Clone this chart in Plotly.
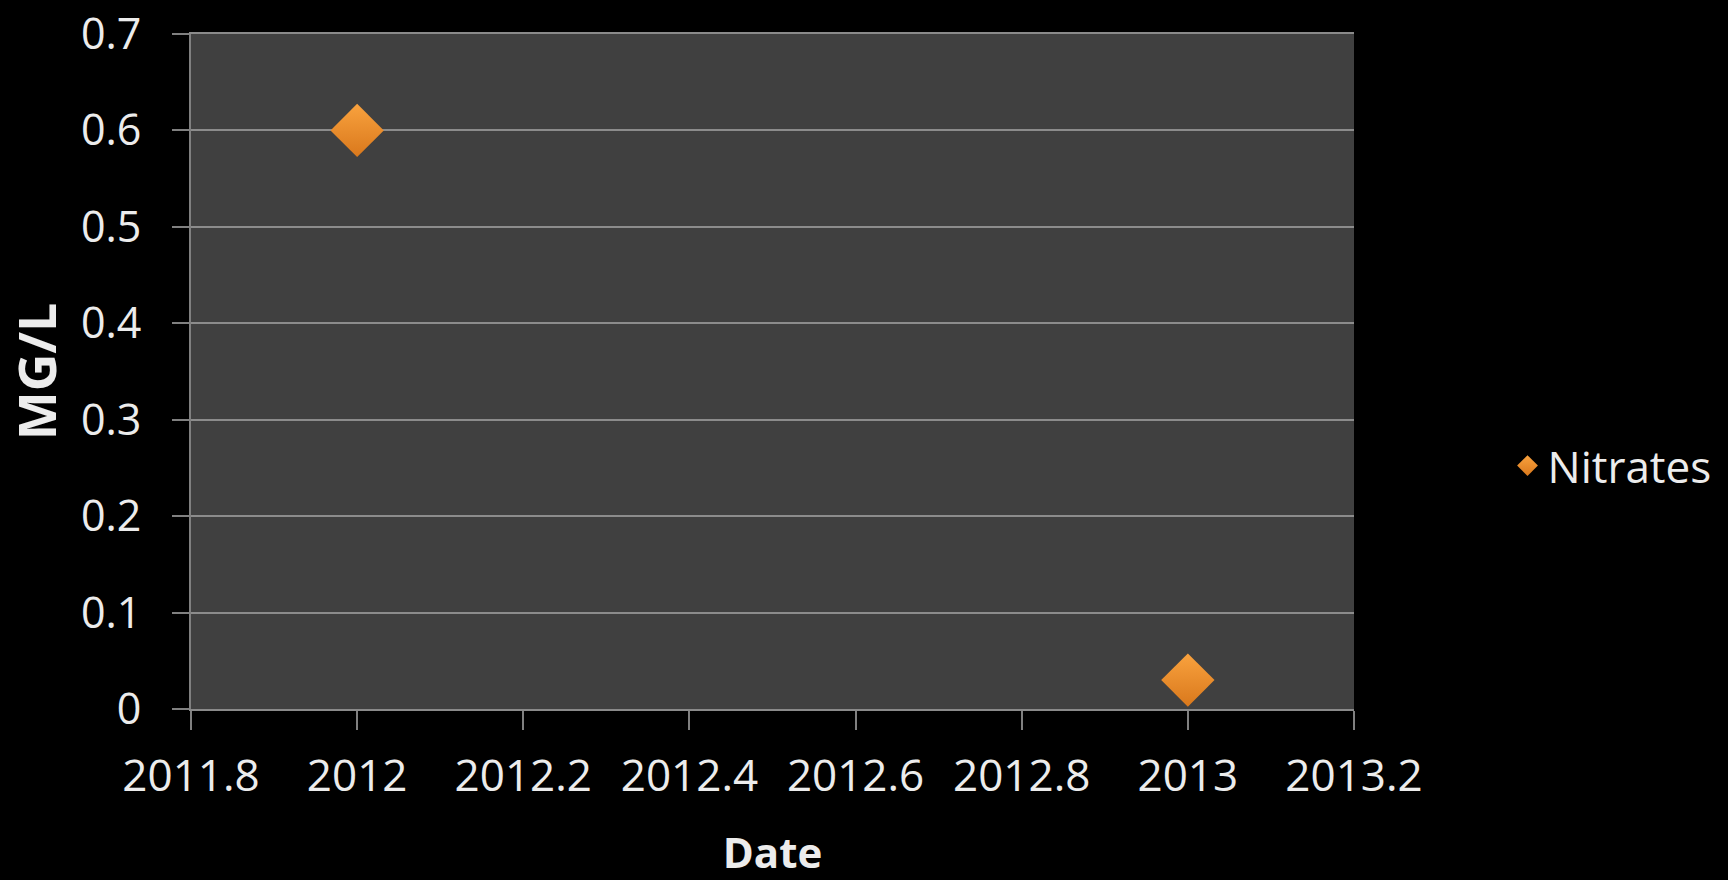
import plotly.graph_objects as go

# Data
series_name = "Nitrates"
dates = [2012.0, 2013.0]
nitrates_mg_l = [0.6, 0.03]

x_tick_vals = [2011.8, 2012.0, 2012.2, 2012.4, 2012.6, 2012.8, 2013.0, 2013.2]
x_tick_text = ["2011.8", "2012", "2012.2", "2012.4", "2012.6", "2012.8", "2013", "2013.2"]
y_tick_vals = [0, 0.1, 0.2, 0.3, 0.4, 0.5, 0.6, 0.7]
y_tick_text = ["0", "0.1", "0.2", "0.3", "0.4", "0.5", "0.6", "0.7"]

FONT = "Open Sans"
TEXT = "#ececec"

fig = go.Figure()
fig.add_trace(go.Scatter(
    x=dates, y=nitrates_mg_l, mode="markers", name=series_name,
    marker=dict(symbol="diamond", size=41, color="#f9a23e",
                gradient=dict(type="vertical", color="#d9781c"),
                line=dict(width=0)),
))

fig.update_layout(
    width=1728, height=880,
    paper_bgcolor="#000000", plot_bgcolor="#404040",
    margin=dict(l=191, r=374, t=34, b=171),
    font=dict(family=FONT, color=TEXT, size=40),
    showlegend=True,
    legend=dict(x=1.132, y=0.36, xanchor="left", yanchor="middle",
                font=dict(family=FONT, size=44, color=TEXT),
                bgcolor="rgba(0,0,0,0)", itemsizing="trace"),
)
fig.update_xaxes(
    range=[2011.8, 2013.2000001], tickmode="array", tickvals=x_tick_vals, ticktext=x_tick_text,
    showgrid=False, zeroline=False, showline=True, mirror=True, linecolor="#8a8a8a", linewidth=2,
    ticks="outside", ticklen=19, tickwidth=2, tickcolor="#808080",
    tickfont=dict(family=FONT, size=44, color=TEXT), ticklabelstandoff=8,
    ticklabeloverflow="allow",
    title=dict(text="<b>Date</b>", font=dict(family=FONT, size=42, color=TEXT), standoff=44),
    automargin=False,
)
fig.update_yaxes(
    range=[0, 0.7000001], tickmode="array", tickvals=y_tick_vals, ticktext=y_tick_text,
    showgrid=True, gridcolor="#8c8c8c", gridwidth=2, zeroline=False,
    showline=True, linecolor="#808080", linewidth=2,
    ticks="outside", ticklen=17, tickwidth=2, tickcolor="#808080",
    tickfont=dict(family=FONT, size=43, color=TEXT), ticklabelstandoff=22,
    ticklabeloverflow="allow",
    title=dict(text="<b>MG/L</b>", font=dict(family=FONT, size=52, color=TEXT), standoff=18),
    automargin=False,
)

fig.write_html(
    "out.html",
    config={"displayModeBar": False},
    post_script="document.body.style.margin='0';document.body.style.background='#000';",
)
